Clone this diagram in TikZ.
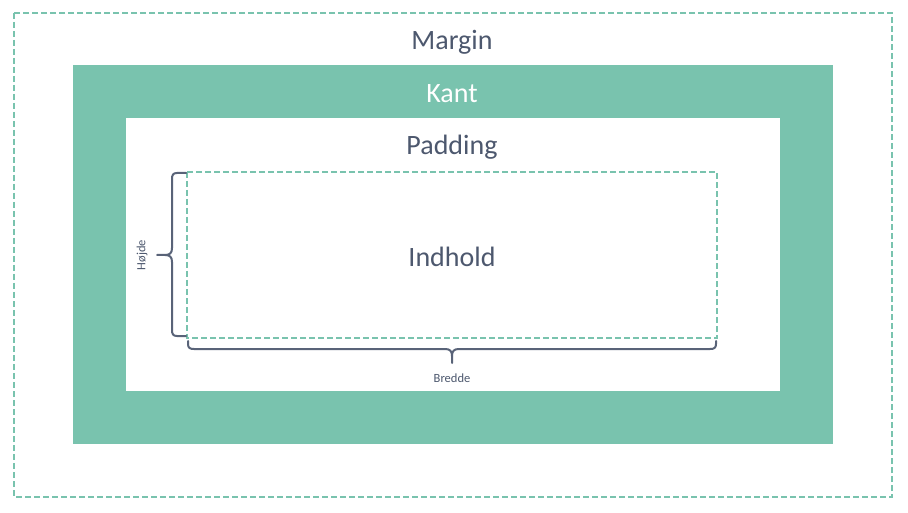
\documentclass[tikz,border=0pt]{standalone}
\usepackage{fontspec}
\setmainfont{Carlito}
\definecolor{boxgreen}{HTML}{79C3AE}
\definecolor{txt}{HTML}{4D586E}
\definecolor{bracec}{HTML}{596378}
\begin{document}
\begin{tikzpicture}[x=1pt,y=-1pt,
  dashbox/.style={draw=boxgreen,line width=2pt,dash pattern=on 6pt off 3pt},
  bigtxt/.style={font=\fontsize{28}{32}\selectfont,text=txt,inner sep=0pt},
  smalltxt/.style={font=\fontsize{12.5}{14}\selectfont,text=txt,inner sep=0pt},
  bracestyle/.style={draw=bracec,line width=2pt,line cap=round}]
\useasboundingbox (0,0) rectangle (908,513);
\fill[white] (0,0) rectangle (908,513);
% margin
\draw[dashbox] (14,13) rectangle (892,497);
% border (kant)
\fill[boxgreen] (73,65) rectangle (833,444);
% padding
\fill[white] (126,118) rectangle (780,391);
% content
\draw[dashbox] (187,172) rectangle (717,338);
% texts
\node[bigtxt] (margin) at (452,42.5) {Margin};
\node[bigtxt,text=white] (kant) at (452,94) {Kant};
\node[bigtxt] (padding) at (452,147) {Padding};
\node[bigtxt] (indhold) at (452,257) {Indhold};
\node[smalltxt] (bredde) at (452,378) {Bredde};
\node[smalltxt,rotate=90] (hojde) at (142,255) {Højde};
% left brace
\draw[bracestyle] (186,173) -- (177,173) .. controls (173,173) and (172,175) .. (172,179)
  -- (172,248) .. controls (172,253) and (170,255) .. (165,255) -- (157,255);
\draw[bracestyle] (165,255) .. controls (170,255) and (172,257) .. (172,262)
  -- (172,330) .. controls (172,334) and (173,336) .. (177,336) -- (186,336);
% bottom brace
\draw[bracestyle] (188,341) -- (188,344) .. controls (188,348) and (190,349) .. (194,349)
  -- (445,349) .. controls (450,349) and (452,351) .. (452,356) -- (452,363);
\draw[bracestyle] (452,356) .. controls (452,351) and (454,349) .. (459,349)
  -- (710,349) .. controls (714,349) and (716,348) .. (716,344) -- (716,341);
\end{tikzpicture}
\end{document}
